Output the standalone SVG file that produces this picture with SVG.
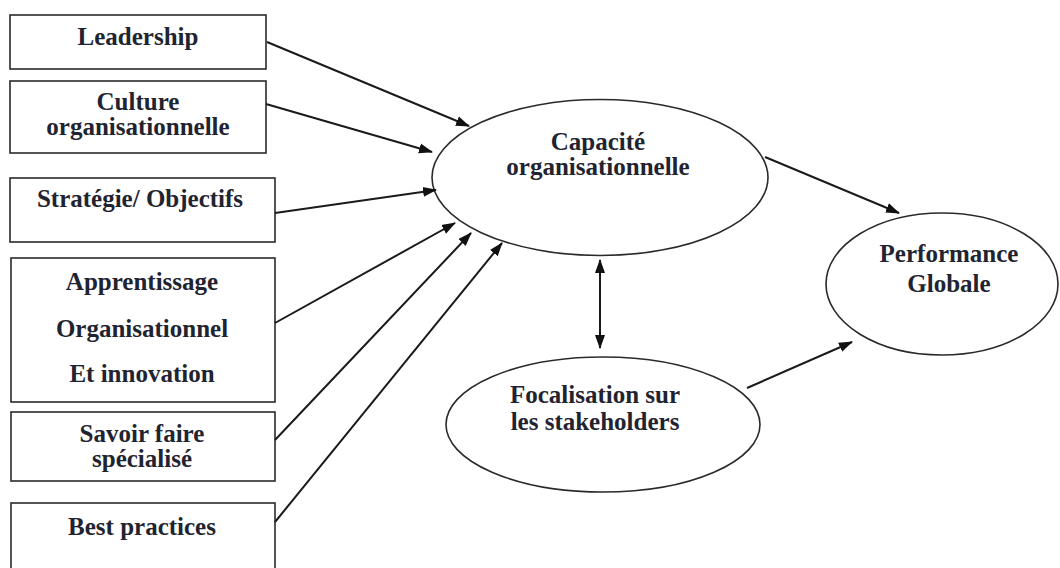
<svg xmlns="http://www.w3.org/2000/svg" width="1060" height="568" viewBox="0 0 1060 568">
<style>
.box{fill:#fff;stroke:#2a2a2a;stroke-width:1.6}
.ell{fill:#fff;stroke:#2a2a2a;stroke-width:1.6}
.t{font-weight:bold;font-size:25px;fill:#1f2430;text-anchor:middle}
.c{stroke:#1a1a1a;stroke-width:2;fill:none;marker-end:url(#ah)}
</style>
<defs>
<marker id="ah" markerUnits="userSpaceOnUse" markerWidth="14" markerHeight="12" refX="13" refY="5" orient="auto-start-reverse" viewBox="0 0 14 10">
<path d="M0,0 L14,5 L0,10 z" fill="#111"/>
</marker>
</defs>
<rect width="1060" height="568" fill="#fff"/>
<g font-family="'Liberation Serif', 'Times New Roman', serif">
<g id="leadership">
<rect class="box" x="10" y="15" width="256" height="54"/>
<text class="t" x="138" y="45">Leadership</text>
</g>
<g id="culture">
<rect class="box" x="10" y="81" width="256" height="72"/>
<text class="t" x="138" y="110">Culture</text>
<text class="t" x="138" y="135">organisationnelle</text>
</g>
<g id="strategie">
<rect class="box" x="10" y="178" width="265" height="64"/>
<text class="t" x="140" y="207">Stratégie/ Objectifs</text>
</g>
<g id="apprentissage">
<rect class="box" x="11" y="258" width="264" height="144"/>
<text class="t" x="142" y="290">Apprentissage</text>
<text class="t" x="142" y="337">Organisationnel</text>
<text class="t" x="142" y="382">Et innovation</text>
</g>
<g id="savoir">
<rect class="box" x="11" y="412" width="264" height="69"/>
<text class="t" x="142" y="442">Savoir faire</text>
<text class="t" x="142" y="467">spécialisé</text>
</g>
<g id="bestpractices">
<rect class="box" x="11" y="503" width="264" height="75"/>
<text class="t" x="142" y="535">Best practices</text>
</g>
<g id="capacite">
<ellipse class="ell" cx="600" cy="177.5" rx="168" ry="78"/>
<text class="t" x="598" y="150">Capacité</text>
<text class="t" x="598" y="175">organisationnelle</text>
</g>
<g id="performance">
<ellipse class="ell" cx="942" cy="284" rx="116" ry="71"/>
<text class="t" x="949" y="262">Performance</text>
<text class="t" x="949" y="292">Globale</text>
</g>
<g id="focalisation">
<ellipse class="ell" cx="603" cy="424.5" rx="157" ry="67.5"/>
<text class="t" x="595" y="403">Focalisation sur</text>
<text class="t" x="595" y="430">les stakeholders</text>
</g>
</g>
<g id="connectors">
<line class="c" x1="267" y1="42" x2="469" y2="126"/>
<line class="c" x1="266" y1="104" x2="432" y2="152"/>
<line class="c" x1="275" y1="213" x2="436" y2="190"/>
<line class="c" x1="275" y1="323" x2="455" y2="223"/>
<line class="c" x1="275" y1="440" x2="471" y2="233"/>
<line class="c" x1="275" y1="522" x2="502" y2="243"/>
<line class="c" x1="765" y1="157" x2="899" y2="213"/>
<line class="c" x1="747" y1="388" x2="852" y2="342"/>
<line class="c" x1="600" y1="260" x2="600" y2="348" marker-start="url(#ah)"/>
</g>
</svg>
